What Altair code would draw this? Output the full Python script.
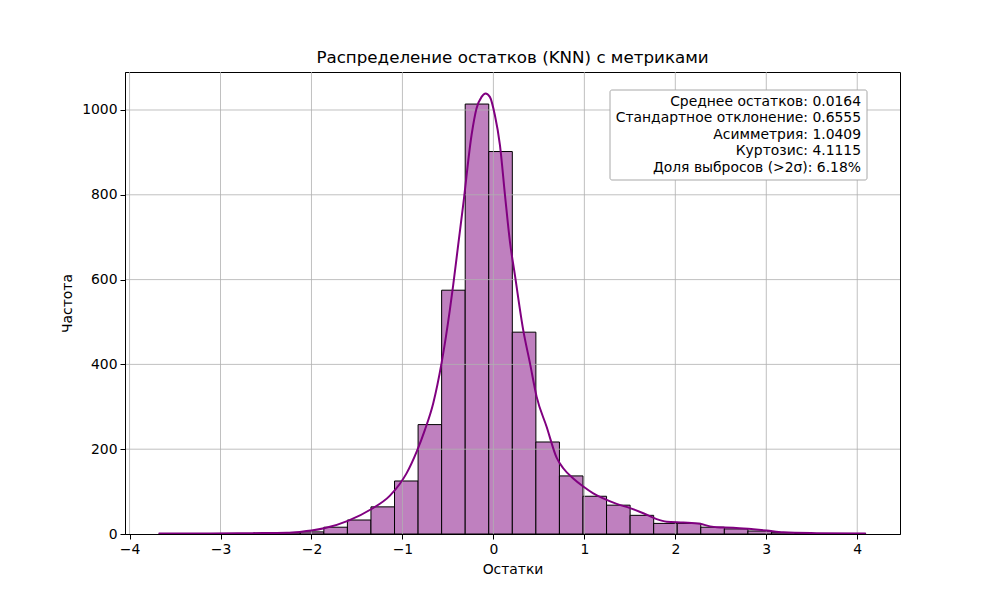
import altair as alt
import pandas as pd

# ---- data ----
bin_edges = [-3.677, -3.418, -3.159, -2.900, -2.641, -2.382, -2.123, -1.864,
             -1.605, -1.346, -1.087, -0.828, -0.569, -0.310, -0.051, 0.208,
             0.467, 0.726, 0.985, 1.244, 1.503, 1.762, 2.021, 2.280, 2.539,
             2.798, 3.057, 3.316, 3.575, 3.834, 4.093]
bin_counts = [1, 0, 1, 1, 2, 3, 5, 16, 33, 64, 125, 258, 575, 1014, 902,
              476, 217, 137, 89, 68, 44, 25, 25, 16, 12, 7, 3, 1, 1, 1]

kde_x = [-3.68, -3.2, -2.65, -2.27, -2.13, -2.0, -1.85, -1.60, -1.34, -1.14,
         -1.03, -0.955, -0.84, -0.754, -0.662, -0.570, -0.479, -0.442, -0.387,
         -0.332, -0.240, -0.185, -0.130, -0.086, -0.039, 0.016, 0.072, 0.127,
         0.182, 0.237, 0.328, 0.402, 0.475, 0.585, 0.695, 0.768, 0.878, 0.988,
         1.098, 1.208, 1.355, 1.502, 1.648, 1.795, 1.905, 2.088, 2.272, 2.382,
         2.455, 2.638, 2.858, 3.005, 3.188, 3.555, 4.094]
kde_y = [1, 1, 2, 3, 5, 8, 14, 31, 59, 90,
         118, 143, 196, 245, 308, 403, 528, 587, 682,
         776, 941, 1004, 1031, 1039, 1031, 988, 917, 800,
         689, 610, 481, 403, 324, 253, 180, 155, 131, 112,
         96, 84, 71, 61, 49, 35, 29, 27, 24, 18,
         16, 15, 11, 8, 4, 2, 1]

x_ticks = [-4, -3, -2, -1, 0, 1, 2, 3, 4]
y_ticks = [0, 200, 400, 600, 800, 1000]

stats_lines = [
    "Среднее остатков: 0.0164",
    "Стандартное отклонение: 0.6555",
    "Асимметрия: 1.0409",
    "Куртозис: 4.1115",
    "Доля выбросов (>2σ): 6.18%",
]

title_text = "Распределение остатков (KNN) с метриками"
x_title = "Остатки"
y_title = "Частота"

# ---- tables ----
bars = pd.DataFrame({
    "start": bin_edges[:-1],
    "end": bin_edges[1:],
    "count": bin_counts,
})
kde = pd.DataFrame({"x": kde_x, "y": kde_y})
xgrid = pd.DataFrame({"v": x_ticks})
ygrid = pd.DataFrame({"v": [v for v in y_ticks if v > 0]})

W, H = 775, 462
xscale = alt.Scale(domain=[-4.05, 4.47], nice=False, zero=False)
yscale = alt.Scale(domain=[0, 1089.6], nice=False, zero=False)

x_axis = alt.Axis(values=x_ticks, title=x_title, grid=False, zindex=1,
                  format="d", tickSize=5, labelPadding=3, titlePadding=7)
y_axis = alt.Axis(values=y_ticks, title=y_title, grid=False, zindex=1,
                  format="d", tickSize=5, labelPadding=3, titlePadding=7)

hist = alt.Chart(bars).mark_rect(
    fill="#bf80bf", stroke="black", strokeWidth=1, opacity=1
).encode(
    x=alt.X("start:Q", scale=xscale, axis=x_axis),
    x2="end:Q",
    y=alt.Y("count:Q", scale=yscale, axis=y_axis),
    y2=alt.datum(0),
)

grid_x = alt.Chart(xgrid).mark_rule(color="#b0b0b0", strokeWidth=0.8).encode(
    x=alt.X("v:Q", scale=xscale)
)
grid_y = alt.Chart(ygrid).mark_rule(color="#b0b0b0", strokeWidth=0.8).encode(
    y=alt.Y("v:Q", scale=yscale)
)

line = alt.Chart(kde).mark_line(
    color="#800080", strokeWidth=2, interpolate="monotone"
).encode(
    x=alt.X("x:Q", scale=xscale),
    y=alt.Y("y:Q", scale=yscale),
)

box = alt.Chart(pd.DataFrame({"k": [0]})).mark_rect(
    fill="white", stroke="#a8a8a8", strokeWidth=1, cornerRadius=2
).encode(
    x=alt.value(485), x2=alt.value(742),
    y=alt.value(18), y2=alt.value(108),
)

stats = alt.Chart(pd.DataFrame({"k": [0]})).mark_text(
    align="right", baseline="top", fontSize=13.9, lineHeight=16.4,
    color="black", font="DejaVu Sans"
).encode(
    x=alt.value(736), y=alt.value(23),
    text=alt.value(stats_lines),
)

chart = alt.layer(hist, grid_x, grid_y, line, box, stats).properties(
    width=W, height=H,
    title=alt.TitleParams(title_text, fontSize=16.7, fontWeight="normal",
                          anchor="middle", offset=5, color="black"),
    autosize=alt.AutoSizeParams(type="none"),
    padding={"left": 117, "top": 64, "right": 80, "bottom": 50},
).configure(
    font="DejaVu Sans",
).configure_view(
    stroke="black", strokeWidth=1,
).configure_axis(
    labelFontSize=13.9, titleFontSize=13.9, titleFontWeight="normal",
    labelColor="black", titleColor="black", tickColor="black",
    domainColor="black", domainWidth=1, tickWidth=1,
    labelFont="DejaVu Sans", titleFont="DejaVu Sans",
)

chart.save("out.html", embed_options={"renderer": "svg", "actions": False})
